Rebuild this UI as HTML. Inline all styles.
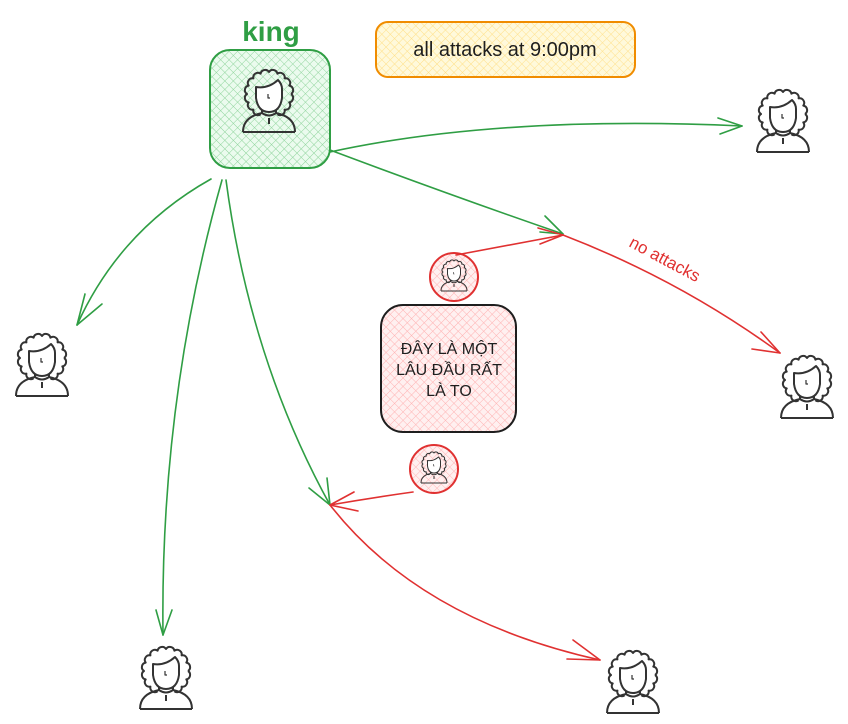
<!DOCTYPE html>
<html><head><meta charset="utf-8"><style>
html,body{margin:0;padding:0;background:#fff;}
svg{display:block;}
text{font-family:"Liberation Sans","DejaVu Sans",sans-serif;}
</style></head><body>
<svg width="848" height="724" viewBox="0 0 848 724" xmlns="http://www.w3.org/2000/svg">
<defs>
<pattern id="hg" width="6" height="6" patternUnits="userSpaceOnUse" patternTransform="rotate(45)">
<rect width="6" height="6" fill="#ebfbee"/><line x1="0" y1="0" x2="0" y2="6" stroke="#8fd49c" stroke-width="1"/><line x1="0" y1="0" x2="6" y2="0" stroke="#8fd49c" stroke-width="1"/></pattern>
<pattern id="hy" width="6" height="6" patternUnits="userSpaceOnUse" patternTransform="rotate(45)">
<rect width="6" height="6" fill="#fff9db"/><line x1="0" y1="0" x2="0" y2="6" stroke="#ffe08a" stroke-width="1"/><line x1="0" y1="0" x2="6" y2="0" stroke="#ffe08a" stroke-width="1"/></pattern>
<pattern id="hr" width="6" height="6" patternUnits="userSpaceOnUse" patternTransform="rotate(45)">
<rect width="6" height="6" fill="#fff0f0"/><line x1="0" y1="0" x2="0" y2="6" stroke="#ffb3b3" stroke-width="1"/><line x1="0" y1="0" x2="6" y2="0" stroke="#ffb3b3" stroke-width="1"/></pattern>
<g id="p" fill="none" stroke="#333" stroke-width="2" stroke-linejoin="round">
<path d="M50 24 A4.6 4.6 0 0 1 48.3 32.4 A4.6 4.6 0 0 1 43.6 39.6 A4.6 4.6 0 0 1 36.4 44.3 M19.6 44.3 A4.6 4.6 0 0 1 12.4 39.6 A4.6 4.6 0 0 1 7.7 32.4 A4.6 4.6 0 0 1 6 24 A4.6 4.6 0 0 1 7.7 15.6 A4.6 4.6 0 0 1 12.4 8.4 A4.6 4.6 0 0 1 19.6 3.7 A4.6 4.6 0 0 1 28 2 A4.6 4.6 0 0 1 36.4 3.7 A4.6 4.6 0 0 1 43.6 8.4 A4.6 4.6 0 0 1 48.3 15.6 A4.6 4.6 0 0 1 50 24"/>
<path d="M15 17 q12 2 22-7 q4 4 4 9 v9 q-2 14-13 14 q-11 0-13-14 z" fill="#fff"/>
<path d="M21 40 v3 q7 5 14 0 v-3"/>
<path d="M2 62 q0-15 19-19 M54 62 q0-15-19-19 M2 62 h52"/>
<path d="M28 48 v6"/>
<path d="M27 24 v4 h2" stroke-width="1.2"/>
</g>
</defs>

<!-- king box -->
<text x="271" y="41" text-anchor="middle" font-size="28" font-weight="bold" fill="#2f9e44">king</text>
<rect x="210" y="50" width="120" height="118" rx="20" fill="url(#hg)" stroke="#2f9e44" stroke-width="2"/>
<use href="#p" x="241" y="70"/>

<!-- orange note -->
<rect x="376" y="22" width="259" height="55" rx="12" fill="url(#hy)" stroke="#f08c00" stroke-width="2"/>
<text x="505" y="56" text-anchor="middle" font-size="20" fill="#1e1e1e">all attacks at 9:00pm</text>

<!-- persons -->
<use href="#p" x="755" y="90"/>
<use href="#p" x="14" y="334"/>
<use href="#p" x="779" y="356"/>
<use href="#p" x="138" y="647"/>
<use href="#p" x="605" y="651"/>

<!-- red circles -->
<circle cx="454" cy="277" r="24" fill="url(#hr)" stroke="#e03131" stroke-width="2"/>
<use href="#p" transform="translate(440 260) scale(0.5)"/>
<circle cx="434" cy="469" r="24" fill="url(#hr)" stroke="#e03131" stroke-width="2"/>
<use href="#p" transform="translate(420 452) scale(0.5)"/>

<!-- pink box -->
<rect x="381" y="305" width="135" height="127" rx="22" fill="url(#hr)" stroke="#1e1e1e" stroke-width="2"/>
<text x="449" y="354" text-anchor="middle" font-size="16" fill="#1e1e1e">ĐÂY LÀ MỘT</text>
<text x="449" y="375" text-anchor="middle" font-size="16" fill="#1e1e1e">LÂU ĐẦU RẤT</text>
<text x="449" y="396" text-anchor="middle" font-size="16" fill="#1e1e1e">LÀ TO</text>

<!-- green arrows -->
<g fill="none" stroke="#2f9e44" stroke-width="1.6" stroke-linecap="round">
<path d="M330 152 Q500 115 742 126"/><path d="M742 126 L718 118 M742 126 L720 134"/>
<path d="M330 150 Q450 195 563 234"/><path d="M563 234 L545 216 M563 234 L540 232"/>
<path d="M211 179 Q120 230 77 325"/><path d="M77 325 L85 294 M77 325 L102 304"/>
<path d="M222 180 Q160 400 163 635"/><path d="M163 635 L156 610 M163 635 L172 610"/>
<path d="M226 180 Q250 360 330 505"/><path d="M330 505 L327 478 M330 505 L309 488"/>
</g>

<!-- red arrows -->
<g fill="none" stroke="#e03131" stroke-width="1.6" stroke-linecap="round">
<path d="M456 255 Q510 245 563 235"/><path d="M563 235 L538 228 M563 235 L540 244"/>
<path d="M563 235 Q680 280 780 353"/><path d="M780 353 L761 332 M780 353 L752 349"/>
<path d="M413 492 Q370 498 330 505"/><path d="M330 505 L354 492 M330 505 L358 511"/>
<path d="M330 505 Q420 620 600 660"/><path d="M600 660 L573 640 M600 660 L567 659"/>
</g>
<text x="0" y="0" font-size="17" fill="#e03131" transform="translate(628 246) rotate(28)">no attacks</text>
</svg>
</body></html>
